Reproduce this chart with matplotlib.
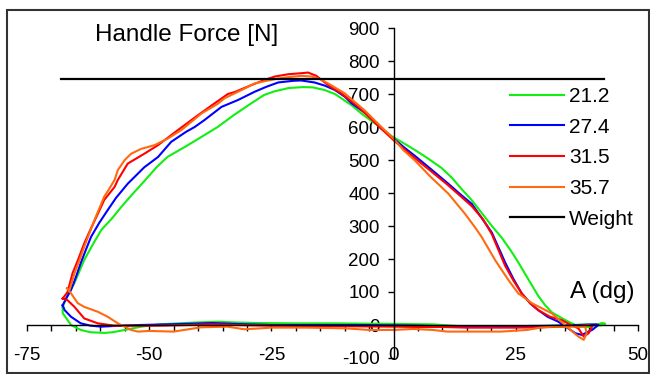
# LIBRARIES IMPORT

import numpy as np
import matplotlib
matplotlib.use('Agg')
import matplotlib.pyplot as plt
from matplotlib.patches import Rectangle

# DATA

# series labels and colours
labels = ['21.2', '27.4', '31.5', '35.7']
colors = ['#11ee11', '#0000ff', '#ff0000', '#ff6a10']

# 21.2
x_212 = [-67.7, -66.7, -65.3, -63.3, -61.5, -59.8, -57.5, -55.7, -53.7, -51.0, -48.5, -46.2, -43.0, -39.3,
         -36.0, -32.6, -29.1, -26.5, -24.4, -21.5, -18.5, -16.5, -14.1, -12.0, -10.7, -8.5, -6.6, -4.5,
         -2.5, -0.4, 1.6, 4.4, 7.0, 9.8, 12.0, 13.9, 16.0, 18.0, 20.1, 22.1, 24.0, 25.5, 27.5, 29.6, 31.0,
         32.4, 35.1, 37.8, 39.9, 41.5, 42.6, 43.3, 42.5, 40.0,
         36.0, 33.0, 28.0, 22.0, 16.0, 12.0, 8.0, 2.0, -5.0, -12.0, -20.0, -28.0, -33.0, -36.0, -40.0, -44.0,
         -48.0, -51.6, -55.0, -57.5, -59.2, -62.0, -64.0, -66.0, -66.7, -67.7, -67.7]
y_212 = [55, 90, 127, 197, 245, 288, 325, 358, 392, 436, 478, 510, 537, 570,
         600, 637, 672, 697, 708, 718, 721, 720, 712, 700, 687, 665, 641, 618,
         597, 572, 555, 530, 505, 476, 445, 412, 378, 340, 300, 265, 225, 190, 140, 88, 60,
         38, 15, -5, -6, 0, 6, 4, -1, 2,
         0, -2, -5, -6, -6, -2, 2, 3, 4, 5, 5, 6, 8, 10, 8, 5,
         2, -5, -15, -22, -24, -22, -15, 0, 15, 36, 55]

# 27.4
x_274 = [-67.7, -67.0, -66.0, -65.0, -64.0, -62.9, -61.9, -60.2, -58.5, -56.8, -54.4, -51.0, -48.2, -45.5,
         -42.5, -40.7, -38.7, -35.2, -31.8, -28.4, -26.0, -23.6, -20.5, -18.9, -16.2, -14.0, -12.0, -10.0,
         -8.6, -5.2, -2.5, 0.0, 2.0, 4.4, 7.5, 11.2, 13.5, 16.0, 18.0, 20.1, 22.8, 24.5, 26.2, 28.0, 29.6,
         31.5, 33.7, 35.5, 37.2, 38.5, 40.6, 41.9, 41.5,
         38.0, 34.0, 28.0, 22.0, 15.0, 10.0, 5.0, 0.0, -8.0, -16.0, -25.0, -32.0, -37.0, -41.0, -46.0, -52.0,
         -57.2, -59.8, -62.0, -64.0, -66.0, -67.3, -67.7]
y_274 = [60, 80, 106, 145, 188, 230, 267, 310, 348, 385, 428, 478, 509, 555,
         585, 600, 621, 661, 682, 707, 722, 735, 740, 741, 735, 725, 712, 692,
         672, 636, 595, 565, 540, 512, 474, 428, 398, 367, 325, 280, 190, 140, 96, 65, 45,
         25, 10, -8, -25, -30, -15, 0, 2,
         0, -2, -3, -4, -5, -4, -2, -1, 0, 0, 0, 3, 6, 4, 2, 0,
         -3, -5, -2, 5, 25, 45, 60]

# 31.5
x_315 = [-67.7, -66.7, -65.7, -64.5, -63.3, -62.0, -60.5, -59.2, -57.1, -56.4, -54.4, -51.0, -48.2, -44.1,
         -40.0, -36.6, -33.9, -32.5, -29.1, -26.5, -24.3, -21.5, -18.9, -17.5, -15.8, -14.1, -12.5, -10.7,
         -7.2, -3.1, 0.0, 2.0, 4.4, 7.5, 11.2, 13.5, 16.0, 18.3, 20.1, 22.8, 24.5, 26.2, 28.0, 29.6, 32.0,
         34.4, 36.0, 37.8, 38.9, 39.9, 40.6, 40.0,
         37.0, 35.1, 30.0, 25.0, 20.0, 15.0, 10.0, 5.0, 0.0, -8.0, -16.0, -25.0, -32.0, -37.0, -42.0, -48.0,
         -52.0, -57.1, -60.5, -63.3, -65.3, -66.7, -67.7]
y_315 = [80, 100, 156, 200, 247, 290, 337, 379, 418, 440, 489, 519, 545, 591,
         636, 672, 700, 706, 727, 742, 753, 760, 763, 765, 755, 735, 718, 702,
         661, 603, 560, 535, 505, 468, 423, 393, 360, 320, 275, 180, 135, 96, 65, 45, 25,
         15, 2, -10, -35, -25, -5, 0,
         -3, -5, -7, -8, -8, -8, -6, -6, -5, -4, -3, -2, 0, 2, 0, -2,
         -2, -2, 5, 20, 55, 75, 80]

# 35.7
x_357 = [-66.8, -66.3, -65.3, -64.3, -63.3, -61.2, -59.2, -58.5, -57.1, -56.4, -55.0, -53.7, -51.6, -48.9,
         -46.2, -43.4, -39.3, -36.0, -34.6, -31.1, -28.4, -26.0, -23.6, -21.0, -18.9, -16.8, -15.0, -13.4,
         -10.0, -5.9, -2.5, 0.0, 2.0, 4.4, 7.5, 11.2, 14.6, 16.7, 18.0, 20.8, 23.5, 25.5, 28.3, 32.4, 35.8,
         37.8, 38.9, 39.5, 39.2,
         36.0, 32.4, 30.0, 27.3, 22.0, 17.0, 11.0, 8.0, 4.0, 0.0, -5.0, -10.0, -18.0, -25.0, -30.5, -34.0,
         -39.4, -45.0, -50.0, -52.3, -53.7, -56.4, -58.5, -60.5, -63.3, -64.6, -66.0, -66.8]
y_357 = [111, 106, 156, 195, 237, 318, 389, 405, 439, 470, 500, 519, 534, 545,
         565, 591, 641, 670, 687, 712, 732, 740, 747, 752, 755, 753, 745, 732,
         702, 650, 600, 565, 530, 498, 450, 398, 337, 295, 267, 196, 136, 96, 66, 35, -10,
         -35, -45, -25, -5,
         -5, -5, -8, -15, -20, -20, -20, -15, -12, -15, -15, -10, -8, -8, -13, -5,
         -7, -20, -18, -20, -15, 5, 25, 40, 55, 66, 96, 111]

# body weight
weight_x = [-68, 43]
weight_y = [745, 745]

# axis ticks
x_ticks = [-75, -50, -25, 0, 25, 50]
y_ticks = [-100, 0, 100, 200, 300, 400, 500, 600, 700, 800, 900]

series_x = [x_212, x_274, x_315, x_357]
series_y = [y_212, y_274, y_315, y_357]

# PLOTTING

plt.rcParams['font.family'] = ['Liberation Sans', 'DejaVu Sans']
plt.rcParams['axes.unicode_minus'] = False

fig = plt.figure(figsize=(6.5, 3.74), dpi=100)
ax = fig.add_axes([27/650, 1 - 358/374, (638 - 27)/650, (358 - 28)/374])

for xs, ys, lab, col in zip(series_x, series_y, labels, colors):
    ax.plot(xs, ys, color=col, lw=1.5, label=lab)
ax.plot(weight_x, weight_y, color='black', lw=1.6, label='Weight')

# axes crossing at the origin
ax.set_xlim(-75, 50)
ax.set_ylim(-100, 900)
ax.spines['left'].set_position(('data', 0))
ax.spines['bottom'].set_position(('data', 0))
ax.spines['top'].set_visible(False)
ax.spines['right'].set_visible(False)
for s in ['left', 'bottom']:
    ax.spines[s].set_linewidth(1.0)
    ax.spines[s].set_color('black')

ax.set_xticks(x_ticks)
ax.set_xticks(np.arange(-75, 51, 5), minor=True)
ax.set_yticks(y_ticks)
ax.tick_params(axis='x', which='both', direction='out', length=4, width=1, pad=12, labelsize=13.5)
ax.tick_params(axis='y', which='both', direction='out', length=4, width=1, pad=6, labelsize=13.5)
ax.patch.set_visible(False)

# texts
ax.text(-42.4, 879, 'Handle Force [N]', fontsize=17.5, ha='center', va='center')
ax.text(42.6, 100, 'A (dg)', fontsize=17.5, ha='center', va='center')

leg = ax.legend(loc='upper left', bbox_to_anchor=(510/650, 1 - 87/374), bbox_transform=fig.transFigure,
                frameon=False, fontsize=15, handlelength=2.6, handletextpad=0.25,
                labelspacing=0.56, borderpad=0, borderaxespad=0)

# outer frame
fig.patches.append(Rectangle((7/650, 1/374), 642/650, 363/374, transform=fig.transFigure,
                             fill=False, edgecolor='#333333', lw=1.5))

fig.savefig('out.png', dpi=100)
